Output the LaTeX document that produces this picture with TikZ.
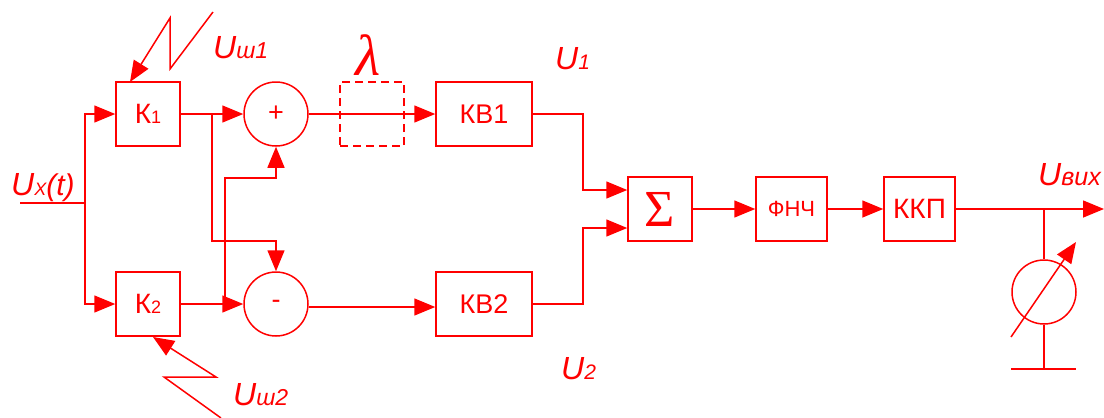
\documentclass[tikz,border=0pt]{standalone}
\usepackage{fontspec}
\setmainfont{Liberation Sans}
\newfontfamily\serifgr{Liberation Serif}
\usepackage{tikz}
\usetikzlibrary{arrows.meta,positioning,calc}
\definecolor{sigred}{HTML}{FF0000}
\newcommand{\fs}[1]{\fontsize{#1}{#1}\selectfont}
\newcommand{\ulab}[1]{\fs{32}\itshape U\fs{21}#1}
\tikzset{
  sigbox/.style={draw=sigred,line width=1.5pt,text=sigred,inner sep=0pt,minimum height=64pt},
  sumcirc/.style={draw=sigred,line width=1.5pt,text=sigred,circle,inner sep=0pt,minimum size=64pt,font=\fs{27}},
  sig/.style={draw=sigred,line width=1.5pt},
  siglab/.style={text=sigred,anchor=base west,inner sep=0pt}
}
\begin{document}
\begin{tikzpicture}[x=1pt,y=-1pt,>={Triangle[length=21pt,width=17pt]}]
  \useasboundingbox (0,0) rectangle (1104,418);
  % blocks
  \node[sigbox,minimum width=64pt,font=\fs{28}] (k1) at (148,114) {К\fs{18}1};
  \node[sigbox,minimum width=64pt,font=\fs{28}] (k2) at (148,304) {К\fs{18}2};
  \node[sumcirc] (plus) at (276,114) {+};
  \node[sumcirc] (minus) at (276,304) {-};
  \node[sigbox,minimum width=64pt,dashed,dash pattern=on 8pt off 5pt] (delay) at (372,114) {};
  \node[sigbox,minimum width=96pt,font=\fs{27}] (kv1) at (484,114) {КВ1};
  \node[sigbox,minimum width=96pt,font=\fs{27}] (kv2) at (484,304) {КВ2};
  \node[sigbox,minimum width=64pt,font=\serifgr\fs{52}] (sum) at (660,209) {Σ};
  \node[sigbox,minimum width=71pt,font=\fs{22}] (lpf) at (791.5,209) {ФНЧ};
  \node[sigbox,minimum width=71pt,font=\fs{28}] (kkp) at (919.5,209) {ККП};
  \node[sumcirc] (meter) at (1044,292) {};
  % free ends and branch points
  \coordinate (in) at (20,203);
  \coordinate (split) at (85,203);
  \coordinate (b1) at (212,114);
  \coordinate (b1t) at (276,241);
  \coordinate (b2) at (225,304);
  \coordinate (b2t) at (276,178);
  \coordinate (out) at (1104,209);
  \coordinate (tap) at (1044,209);
  \coordinate (gnd) at (1044,369);
  \coordinate (gndl) at (1011,369);
  \coordinate (gndr) at (1076,369);
  % input
  \draw[sig] (in) -- (split);
  \draw[sig,->] (split) |- (k1.west);
  \draw[sig,->] (split) |- (k2.west);
  % cross connections
  \draw[sig,->] (k1.east) -- (plus.west);
  \draw[sig,->] (k2.east) -- (minus.west);
  \draw[sig,->] (b1) |- (b1t) -- (minus.north);
  \draw[sig,->] (b2) |- (b2t) -- (plus.south);
  \draw[sig,->] (plus.east) -- (kv1.west);
  \draw[sig,->] (minus.east |- 0,307) -- (kv2.west |- 0,307);
  % to adder
  \draw[sig,->] (kv1.east) -- (583,114) |- (sum.west |- 0,190);
  \draw[sig,->] (kv2.east) -- (583,304) |- (sum.west |- 0,228);
  \draw[sig,->] (sum.east) -- (lpf.west);
  \draw[sig,->] (lpf.east) -- (kkp.west);
  \draw[sig,->] (kkp.east) -- (out);
  % meter
  \draw[sig] (tap) -- (meter.north);
  \draw[sig] (meter.south) -- (gnd);
  \draw[sig] (gndl) -- (gndr);
  \coordinate (ndla) at (1011,337);
  \coordinate (ndlb) at (1076,242);
  \draw[sig,->] (ndla) -- (ndlb);
  % noise zigzags
  \coordinate (za1) at (213,12);
  \coordinate (za2) at (170,69);
  \coordinate (za3) at (170,18);
  \coordinate (za4) at (130,82);
  \draw[sig,->] (za1) -- (za2) -- (za3) -- (za4);
  \coordinate (zb1) at (221,418);
  \coordinate (zb2) at (164,377);
  \coordinate (zb3) at (216,377);
  \coordinate (zb4) at (153,337);
  \draw[sig,->] (zb1) -- (zb2) -- (zb3) -- (zb4);
  % labels
  \node[siglab] (lux) at (11,195) {\ulab{\fs{18}X}\fs{30}(t)};
  \node[siglab] (lsh1) at (213,58) {\ulab{\fs{23}ш1}};
  \node[siglab] (lsh2) at (233,405) {\ulab{\fs{23}ш2}};
  \node[siglab] (lu1) at (555,69) {\ulab{1}};
  \node[siglab] (lu2) at (561,379) {\ulab{2}};
  \node[siglab] (lvyh) at (1038,185) {\ulab{\fs{25}вих}};
  \node[siglab,font=\serifgr\itshape\fs{58}] (llam) at (355,75) {λ};
\end{tikzpicture}
\end{document}
